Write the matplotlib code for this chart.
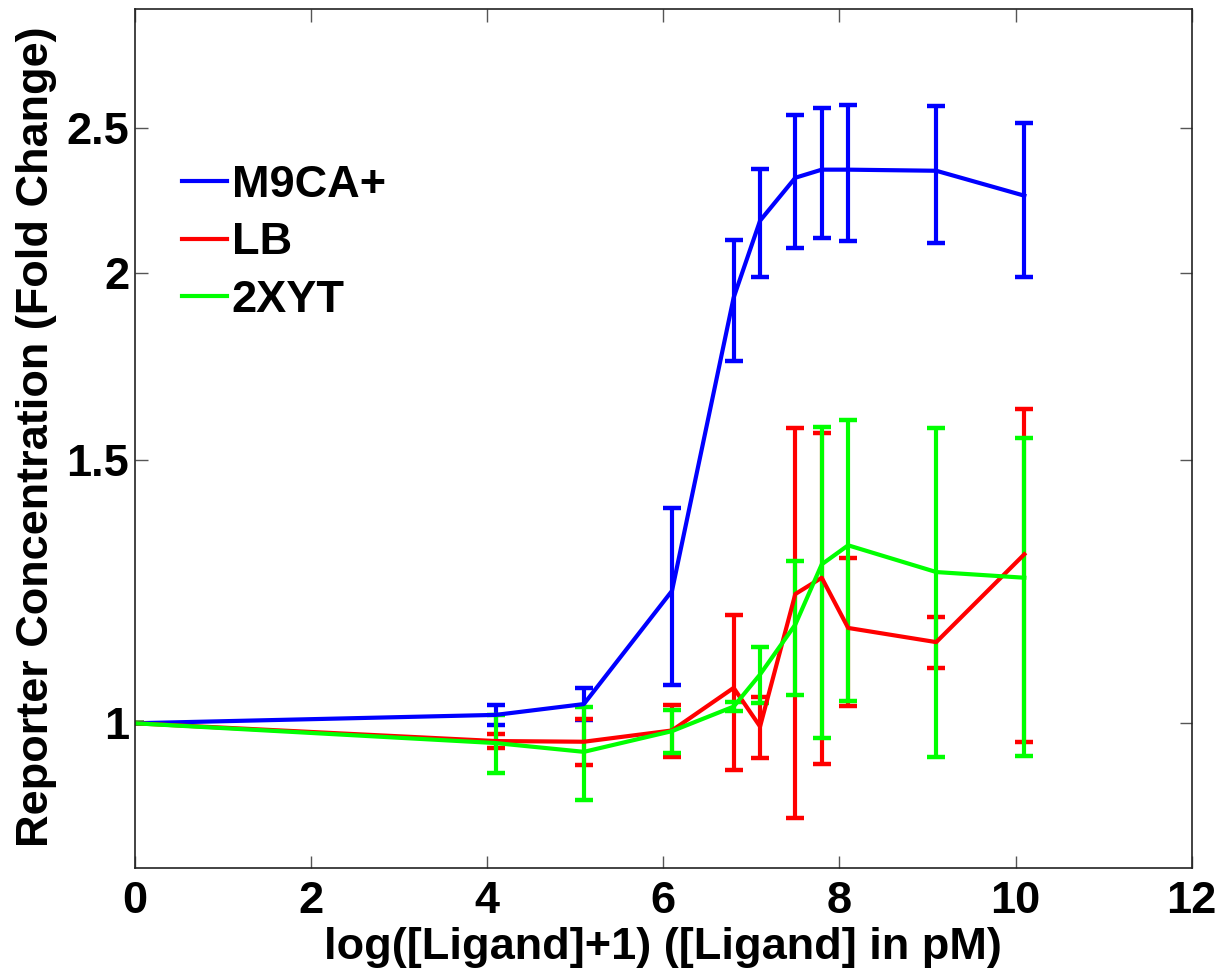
import matplotlib
matplotlib.use('Agg')
import matplotlib.pyplot as plt
from matplotlib.ticker import FixedLocator, FixedFormatter, NullLocator

# log([Ligand]+1)
x = [0, 4.1, 5.1, 6.1, 6.8, 7.1, 7.5, 7.8, 8.1, 9.1, 10.1]

m9ca = [1.0, 1.013, 1.03, 1.226, 1.925, 2.167, 2.315, 2.344, 2.344, 2.34, 2.252]
m9ca_err = [0, 0.015, 0.025, 0.166, 0.178, 0.18, 0.236, 0.235, 0.245, 0.245, 0.266]

lb = [1.0, 0.973, 0.972, 0.989, 1.056, 0.995, 1.22, 1.251, 1.158, 1.133, 1.297]
lb_err = [0, 0.01, 0.034, 0.04, 0.125, 0.047, 0.355, 0.312, 0.131, 0.044, 0.325]

xyt = [1.0, 0.97, 0.957, 0.988, 1.026, 1.078, 1.164, 1.277, 1.315, 1.262, 1.251]
xyt_err = [0, 0.043, 0.068, 0.033, 0.007, 0.047, 0.12, 0.30, 0.28, 0.313, 0.30]

yticks = [1, 1.5, 2, 2.5]
ytick_labels = ['1', '1.5', '2', '2.5']

plt.rcParams['font.family'] = 'Liberation Sans'
plt.rcParams['font.weight'] = 'bold'
fs = 32.5

fig = plt.figure(figsize=(12.23, 9.68), dpi=100)
ax = fig.add_axes([0.1101, 0.103, 0.8643, 0.8874])

for y, e, c, lab in [(m9ca, m9ca_err, '#0000ff', 'M9CA+'),
                     (lb, lb_err, '#ff0000', 'LB'),
                     (xyt, xyt_err, '#00ff00', '2XYT')]:
    ax.errorbar(x, y, yerr=e, color=c, lw=3.0, capsize=6.5, capthick=3.2,
                elinewidth=3.0, label=lab)

ax.set_yscale('log')
ax.set_ylim(0.8, 3.0)
ax.set_xlim(0, 12)
ax.yaxis.set_major_locator(FixedLocator(yticks))
ax.yaxis.set_major_formatter(FixedFormatter(ytick_labels))
ax.yaxis.set_minor_locator(NullLocator())
ax.set_xticks(range(0, 13, 2))

ax.tick_params(direction='in', length=9, width=1, color='#555555',
               top=True, right=True, labelsize=fs)
ax.tick_params(axis='x', pad=9)
ax.tick_params(axis='y', pad=4)
for s in ax.spines.values():
    s.set_linewidth(1.2)
    s.set_color('#222222')

ax.set_xlabel('log([Ligand]+1) ([Ligand] in pM)', fontsize=fs, fontweight='bold', labelpad=4)
ax.set_ylabel('Reporter Concentration (Fold Change)', fontsize=fs, fontweight='bold')
ax.yaxis.set_label_coords(-0.073, 0.503)

# handles without the error bar glyphs
handles, labels = ax.get_legend_handles_labels()
handles = [h[0] for h in handles]
ax.legend(handles, labels, loc='upper left', bbox_to_anchor=(0.045, 0.819),
          frameon=False, fontsize=fs, handlelength=1.0, handletextpad=0.1,
          labelspacing=0.37, borderpad=0, borderaxespad=0)

plt.savefig('out.png', dpi=100)
